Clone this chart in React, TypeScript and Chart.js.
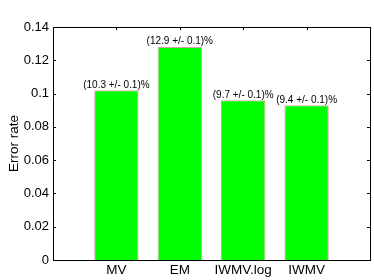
import React, { useEffect, useRef } from "react";
import { Chart, registerables } from "chart.js";

Chart.register(...registerables);

const categories = ["", "MV", "EM", "IWMV.log", "IWMV", ""];
const errorRates = [null, 0.102, 0.128, 0.096, 0.093, null];
const valueLabels = ["", "(10.3 +/- 0.1)%", "(12.9 +/- 0.1)%", "(9.7 +/- 0.1)%", "(9.4 +/- 0.1)%", ""];
const yTicks = [0, 0.02, 0.04, 0.06, 0.08, 0.1, 0.12, 0.14];

const FONT = "'Liberation Sans', Arial, Helvetica, sans-serif";

const framePlugin = {
  id: "matlabFrame",
  beforeDatasetsDraw(chart: any) {
    const { ctx, chartArea: a, scales } = chart;
    ctx.save();
    ctx.strokeStyle = "#000";
    ctx.lineWidth = 1;
    ctx.beginPath();
    const tl = 3;
    for (const v of yTicks) {
      const y = Math.round(scales.y.getPixelForValue(v)) + 0.5;
      ctx.moveTo(a.left, y);
      ctx.lineTo(a.left + tl, y);
      ctx.moveTo(a.right, y);
      ctx.lineTo(a.right - tl, y);
    }
    for (let i = 1; i <= 4; i++) {
      const x = Math.round(scales.x.getPixelForValue(i)) + 0.5;
      ctx.moveTo(x, a.top);
      ctx.lineTo(x, a.top + tl);
      ctx.moveTo(x, a.bottom);
      ctx.lineTo(x, a.bottom - tl);
    }
    ctx.stroke();
    ctx.restore();
  },
  afterDatasetsDraw(chart: any) {
    const { ctx, chartArea: a } = chart;
    ctx.save();
    ctx.strokeStyle = "#000";
    ctx.lineWidth = 1;
    ctx.strokeRect(Math.round(a.left) + 0.5, Math.round(a.top) + 0.5, Math.round(a.right - a.left), Math.round(a.bottom - a.top));
    const meta = chart.getDatasetMeta(0);
    ctx.fillStyle = "#000";
    ctx.font = `10px ${FONT}`;
    ctx.textAlign = "center";
    ctx.textBaseline = "alphabetic";
    meta.data.forEach((bar: any, i: number) => {
      if (errorRates[i] == null) return;
      ctx.fillText(valueLabels[i], bar.x, bar.y - 2.5);
    });
    ctx.restore();
  },
};

export default function App() {
  const ref = useRef<HTMLCanvasElement>(null);
  useEffect(() => {
    if (!ref.current) return;
    const chart = new Chart(ref.current, {
      type: "bar",
      data: {
        labels: categories,
        datasets: [
          {
            data: errorRates as any,
            backgroundColor: "#00ff00",
            borderColor: "#d9a3a3",
            borderWidth: 1,
            categoryPercentage: 1,
            barPercentage: 0.7,
          },
        ],
      },
      options: {
        animation: false,
        responsive: false,
        maintainAspectRatio: false,
        layout: { padding: { top: 27, right: 4, left: 0, bottom: 0 } },
        plugins: { legend: { display: false }, tooltip: { enabled: false } },
        scales: {
          x: {
            type: "category",
            offset: false,
            grid: { display: false, drawTicks: false },
            border: { display: false },
            ticks: {
              autoSkip: false,
              maxRotation: 0,
              padding: 2,
              color: "#000",
              font: { family: FONT, size: 13.5 },
            },
            afterFit(scale: any) {
              scale.height = 20;
            },
          },
          y: {
            min: 0,
            max: 0.14,
            grid: { display: false, drawTicks: false },
            border: { display: false },
            afterBuildTicks(scale: any) {
              scale.ticks = yTicks.map((v) => ({ value: v }));
            },
            ticks: {
              padding: 4,
              color: "#000",
              font: { family: FONT, size: 13 },
              callback: (v: any) => String(+Number(v).toFixed(2)),
            },
            title: {
              display: true,
              text: "Error rate",
              color: "#000",
              font: { family: FONT, size: 13.5 },
              padding: { top: 6, bottom: 0 },
            },
            afterFit(scale: any) {
              scale.width = 53;
            },
          },
        },
      },
      plugins: [framePlugin],
    });
    return () => chart.destroy();
  }, []);
  return (
    <div style={{ position: "fixed", left: 0, top: 0, width: 374, height: 280, background: "#fff" }}>
      <canvas ref={ref} width={374} height={280} style={{ width: 374, height: 280, display: "block" }} />
    </div>
  );
}
